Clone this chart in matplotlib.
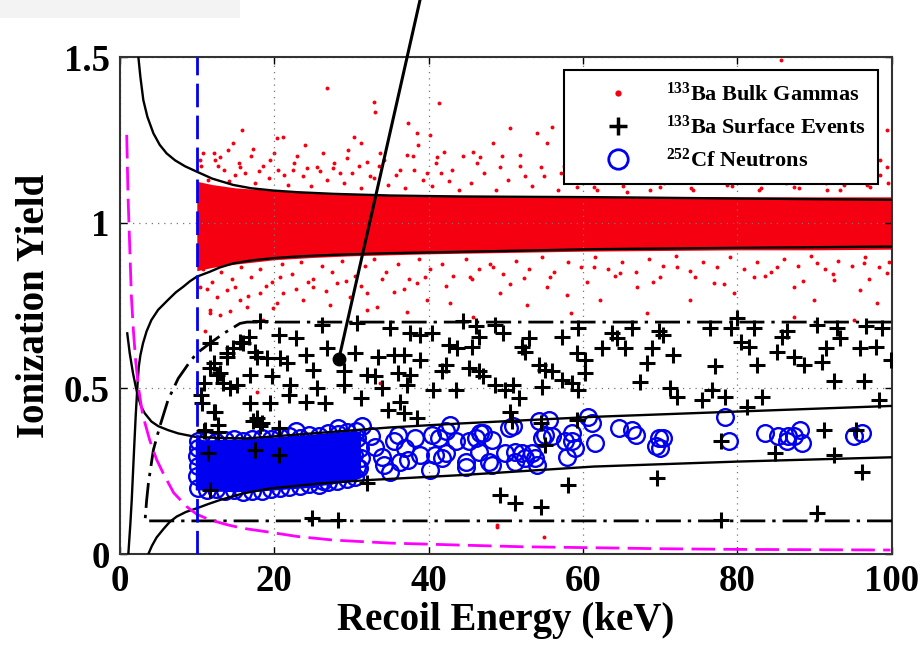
import matplotlib
matplotlib.use("Agg")
import matplotlib.pyplot as plt
from matplotlib.lines import Line2D
from matplotlib.patches import Rectangle

plt.rcParams['font.family'] = ['Liberation Serif', 'DejaVu Serif']
plt.rcParams['font.weight'] = 'bold'
plt.rcParams['mathtext.fontset'] = 'custom'
plt.rcParams['mathtext.rm'] = 'Liberation Serif:bold'
plt.rcParams['mathtext.bf'] = 'Liberation Serif:bold'
plt.rcParams['mathtext.it'] = 'Liberation Serif:bold'

# ---------------- data ----------------
# dense core of the 133Ba bulk-gamma band (edges)
gcore_x = [10, 12, 15, 20, 25, 30, 40, 50, 60, 70, 80, 90, 100]
gcore_hi = [1.125, 1.115, 1.105, 1.097, 1.09, 1.087, 1.083, 1.082, 1.08, 1.079, 1.078, 1.078, 1.078]
gcore_lo = [0.855, 0.865, 0.875, 0.888, 0.895, 0.9, 0.906, 0.91, 0.914, 0.916, 0.918, 0.918, 0.92]

# scattered bulk-gamma events outside the dense core
gam_x = [26.8, 32.9, 33.1, 41.3, 15.8, 37.4, 21.2, 20.4, 30.3, 38.5, 40.2, 24.0, 31.2, 14.7, 17.3,
         38.7, 42.0, 33.7, 37.2, 12.2, 13.0, 10.4, 19.5, 29.4, 41.1, 25.5, 27.7, 32.0, 15.6, 22.5,
         10.4, 11.7, 15.6, 16.5, 20.4, 21.2, 23.8, 27.3, 29.9, 32.0, 33.3, 35.5, 37.2, 39.8, 42.8,
         13.0, 18.6, 25.1, 28.1, 38.5, 13.9, 18.2,
         50.6, 48.4, 56.0, 54.0, 55.3, 46.7, 45.8, 51.9, 49.3, 54.5, 57.1, 85.6, 99.4, 98.5, 99.4,
         61.4, 70.0, 78.7, 87.3, 93.8, 74.3, 83.0, 65.7, 91.6, 97.2, 59.2,
         45.4, 48.4, 52.3, 55.3, 57.9, 52.7, 49.3, 64.8, 67.0, 70.0, 73.9, 76.9, 79.5, 82.1, 85.1,
         87.3, 89.9, 92.5, 95.9, 98.1, 99.4, 96.4, 61.4, 62.2, 72.2, 90.3, 45.8, 58.4, 68.3, 87.3, 95.1,
         48.9, 54.9, 48.9, 11.7, 14.3, 19.9, 32.0, 11.1, 17.8, 33.7,
         10.5, 11.5, 12.3, 13.5, 14.2, 15.5, 16.3, 17.5, 18.6, 19.4, 20.5, 21.8, 22.6, 23.7, 24.8, 25.9,
         26.9, 27.8, 29.0, 30.1, 31.3, 32.4, 33.6, 34.7, 35.8, 37.0, 38.1, 39.3, 40.5, 41.6, 42.7, 43.9,
         45.5, 47.2, 48.8, 50.3, 51.8, 53.4, 55.0, 56.7, 58.3, 60.0, 61.8, 63.5, 65.2, 67.0, 68.7, 70.5,
         72.3, 74.0, 75.8, 77.5, 79.3, 81.0, 82.8, 84.5, 86.3, 88.0, 89.8, 91.5, 93.3, 95.0, 96.8, 98.5, 99.5,
         10.8, 12.0, 13.2, 14.5, 15.7, 17.0, 18.2, 19.7, 21.0, 22.3, 23.5, 25.0, 26.2, 27.5, 28.8, 30.5,
         31.8, 33.0, 34.5, 36.0, 37.5, 38.8, 40.2, 41.8, 43.2, 44.8, 46.5, 48.0, 49.7, 51.3, 53.0, 54.7,
         56.3, 58.0, 59.7, 61.5, 63.2, 65.0, 66.8, 68.5, 70.3, 72.0, 73.8, 75.5, 77.3, 79.0, 80.8, 82.5,
         84.3, 86.0, 87.8, 89.5, 91.3, 93.0, 94.8, 96.5, 98.3, 99.6,
         10.8, 12.8, 14.0, 15.0, 17.0, 18.0, 20.0, 21.3, 23.0, 24.3, 26.3, 28.5, 29.6, 31.0, 33.0, 34.2,
         36.3, 38.0, 39.8, 41.0, 43.0, 44.5, 46.3, 49.5, 52.5, 57.5, 62.5, 66.0, 69.5, 73.5, 78.0, 82.0,
         85.5, 90.5, 94.0, 97.5,
         11.3, 12.6, 14.9, 16.6, 18.9, 20.8, 22.9, 24.4, 26.7, 29.3, 31.2, 34.0, 36.8, 39.5, 42.3, 45.6,
         50.5, 55.7, 60.5, 64.2, 69.0, 74.5, 78.2, 83.5, 88.5, 92.3, 97.0]
gam_y = [1.405, 1.365, 1.335, 1.360, 1.280, 1.302, 1.259, 1.257, 1.259, 1.270, 1.265, 1.234, 1.239, 1.239, 1.221,
         1.234, 1.214, 1.209, 1.204, 1.209, 1.199, 1.189, 1.189, 1.194, 1.199, 1.169, 1.164, 1.184, 1.169, 1.159,
         0.807, 0.726, 0.767, 0.747, 0.757, 0.787, 0.767, 0.752, 0.777, 0.787, 0.747, 0.792, 0.731, 0.767, 0.757,
         0.721, 0.706, 0.807, 0.817, 0.817, 0.797, 0.787,
         1.285, 1.239, 1.290, 1.270, 1.239, 1.199, 1.214, 1.204, 1.169, 1.169, 1.149, 1.491, 1.280, 1.189, 1.169,
         1.109, 1.109, 1.114, 1.109, 1.114, 1.099, 1.104, 1.094, 1.099, 1.109, 1.109,
         0.837, 0.867, 0.832, 0.807, 0.782, 0.752, 0.787, 0.847, 0.807, 0.837, 0.767, 0.817, 0.787, 0.837, 0.867,
         0.807, 0.767, 0.827, 0.797, 0.757, 0.847, 0.877, 0.867, 0.767, 0.867, 0.877, 0.716, 0.726, 0.726, 0.716, 0.706,
         0.088, 0.052, 0.082, 0.737, 0.732, 0.742, 0.737, 0.672, 0.490, 0.515,
         1.17, 1.13, 1.19, 1.16, 1.125, 1.18, 1.15, 1.12, 1.17, 1.135, 1.16, 1.115, 1.18, 1.14, 1.11, 1.155,
         1.13, 1.18, 1.12, 1.15, 1.105, 1.14, 1.17, 1.115, 1.145, 1.105, 1.16, 1.13, 1.11, 1.15, 1.125, 1.10,
         1.12, 1.15, 1.10, 1.13, 1.17, 1.11, 1.14, 1.10, 1.125, 1.15, 1.10, 1.13, 1.11, 1.14, 1.10, 1.12,
         1.15, 1.105, 1.13, 1.16, 1.11, 1.13, 1.10, 1.14, 1.12, 1.105, 1.15, 1.12, 1.10, 1.135, 1.115, 1.145, 1.12,
         0.86, 0.82, 0.85, 0.83, 0.865, 0.835, 0.86, 0.82, 0.875, 0.845, 0.88, 0.83, 0.87, 0.85, 0.885, 0.84,
         0.87, 0.89, 0.85, 0.875, 0.83, 0.89, 0.86, 0.875, 0.84, 0.89, 0.86, 0.875, 0.845, 0.885, 0.86, 0.895,
         0.85, 0.88, 0.865, 0.895, 0.86, 0.88, 0.85, 0.89, 0.87, 0.90, 0.855, 0.88, 0.865, 0.895, 0.86, 0.88,
         0.85, 0.89, 0.87, 0.90, 0.86, 0.885, 0.87, 0.895, 0.865, 0.88,
         1.21, 1.17, 1.22, 1.145, 1.20, 1.155, 1.21, 1.145, 1.20, 1.165, 1.21, 1.15, 1.22, 1.17, 1.135, 1.19,
         1.16, 1.20, 1.15, 1.18, 1.16, 1.20, 1.18, 1.20, 1.14, 1.17, 1.16, 1.20, 1.165, 1.13, 1.19, 1.15,
         1.175, 1.16, 1.19, 1.165,
         0.80, 0.775, 0.805, 0.78, 0.81, 0.835, 0.80, 0.82, 0.795, 0.825, 0.81, 0.83, 0.80, 0.835, 0.81, 0.83,
         0.815, 0.835, 0.82, 0.84, 0.82, 0.835, 0.815, 0.84, 0.825, 0.845, 0.83]

# 133Ba surface events
surf_x = [18.2, 20.6, 22.9, 26.2, 30.7, 35.0, 37.6, 38.9, 15.6, 16.7, 17.6, 14.7, 13.9, 20.8, 19.1, 17.8,
          21.7, 24.2, 25.1, 26.8, 29.0, 29.0, 30.5, 32.0, 33.1, 33.5, 35.5, 36.8, 38.9, 36.1, 37.6, 37.2,
          34.0, 12.2, 11.7, 12.6, 13.4, 14.3, 15.2, 10.9, 10.6, 12.2, 16.9, 19.7, 22.1, 21.9, 25.5, 24.2,
          26.6, 16.9, 19.5, 31.2, 17.8, 18.4, 20.6, 12.8, 10.9, 34.8, 36.3, 36.8, 38.5, 11.5, 17.6, 20.6,
          11.7, 32.0, 24.9, 28.3,
          11.7, 13.9, 16.0, 13.0, 10.7, 12.4, 11.1, 12.8, 17.3, 18.2,
          40.4, 44.5, 46.1, 46.5, 48.6, 49.7, 42.6, 43.7, 45.6, 42.2, 41.7, 45.2, 46.5, 47.1, 48.6, 49.9,
          51.0, 51.7, 40.6, 43.5, 52.1, 53.0, 52.5, 54.3, 55.1, 56.0, 54.7, 57.3, 59.4, 59.2, 60.3, 60.3,
          57.3, 58.6, 59.4, 62.5, 63.8, 64.4, 65.5, 66.4, 68.3, 68.9, 69.8, 67.4, 50.6, 50.8, 54.5, 55.1,
          59.2, 58.1, 49.3, 51.2, 54.5, 69.6,
          70.4, 71.7, 76.5, 77.1, 79.1, 80.0, 80.4, 81.5, 82.1, 82.5, 85.1, 85.8, 86.4, 87.3, 88.6, 90.3,
          91.0, 91.4, 92.9, 93.3, 95.9, 96.6, 97.9, 98.7, 99.9, 92.5, 96.4, 98.3, 71.3, 72.2, 75.4, 76.7,
          78.4, 81.2, 83.2, 77.8, 84.9, 91.2, 92.5, 95.3, 96.1, 90.3, 77.8]
surf_y = [0.702, 0.661, 0.651, 0.692, 0.697, 0.682, 0.666, 0.661, 0.641, 0.656, 0.611, 0.621, 0.596, 0.591,
          0.591, 0.596, 0.576, 0.601, 0.556, 0.621, 0.551, 0.510, 0.606, 0.541, 0.536, 0.596, 0.601, 0.601,
          0.586, 0.546, 0.541, 0.510, 0.500, 0.576, 0.561, 0.541, 0.515, 0.500, 0.510, 0.515, 0.480, 0.430,
          0.541, 0.536, 0.510, 0.480, 0.500, 0.460, 0.455, 0.455, 0.455, 0.470, 0.410, 0.395, 0.380, 0.390,
          0.370, 0.435, 0.460, 0.425, 0.410, 0.304, 0.314, 0.299, 0.193, 0.214, 0.108, 0.103,
          0.636, 0.606, 0.636, 0.546, 0.455, 0.430, 0.374, 0.369, 0.400, 0.385,
          0.666, 0.702, 0.687, 0.656, 0.692, 0.666, 0.631, 0.621, 0.626, 0.571, 0.551, 0.561, 0.551, 0.536,
          0.510, 0.495, 0.510, 0.470, 0.495, 0.495, 0.626, 0.651, 0.611, 0.571, 0.556, 0.551, 0.505, 0.656,
          0.682, 0.606, 0.586, 0.546, 0.526, 0.515, 0.495, 0.621, 0.666, 0.651, 0.621, 0.682, 0.576, 0.621,
          0.672, 0.520, 0.430, 0.400, 0.395, 0.329, 0.405, 0.209, 0.179, 0.153, 0.143, 0.229,
          0.661, 0.601, 0.682, 0.566, 0.682, 0.712, 0.641, 0.626, 0.682, 0.571, 0.611, 0.656, 0.672, 0.596,
          0.571, 0.692, 0.581, 0.621, 0.682, 0.651, 0.621, 0.687, 0.626, 0.682, 0.586, 0.521, 0.521, 0.465,
          0.501, 0.475, 0.465, 0.495, 0.475, 0.445, 0.475, 0.340, 0.304, 0.375, 0.299, 0.375, 0.249, 0.123,
          0.103]

# dense core of the 252Cf neutron cloud (edges)
ncore_x = [9.8, 12, 15, 18, 21, 24, 27, 30, 31.2]
ncore_hi = [0.345, 0.345, 0.347, 0.35, 0.355, 0.36, 0.366, 0.372, 0.37]
ncore_lo = [0.195, 0.19, 0.188, 0.19, 0.195, 0.2, 0.21, 0.22, 0.23]

# 252Cf neutrons
neu_x = [10.1, 11.3, 12.5, 13.6, 14.8, 16.0, 17.2, 18.4, 19.6, 20.8, 22.0, 23.3, 24.5, 25.8, 27.0, 28.3, 29.5, 30.6,
         10.1, 11.3, 12.5, 13.6, 14.8, 16.0, 17.2, 18.4, 19.6, 20.8, 22.0, 23.3, 24.5, 25.8, 27.0, 28.2, 29.4, 30.5,
         10.0, 10.1, 10.0, 10.2, 31.0, 31.3, 31.1, 30.8,
         22.9, 28.3, 31.4, 32.5, 33.1, 34.0, 34.2, 35.0, 35.5, 36.1, 37.0, 37.4, 38.3, 38.9, 36.3,
         29.4, 30.3, 30.7, 27.3, 29.0, 25.1, 26.4, 23.8,
         40.4, 42.2, 42.8, 41.3, 43.5, 40.9, 42.2, 40.2, 41.7, 44.8, 45.2, 44.8, 46.1, 46.7, 47.1, 48.2,
         47.8, 48.2, 46.5, 50.4, 51.0, 49.9, 51.2, 52.1, 51.2, 52.5, 53.8, 54.0, 53.4, 54.3, 55.6, 55.1,
         56.0, 54.7, 57.7, 58.6, 57.9, 59.0, 58.6, 60.7, 61.2, 61.6, 64.6, 66.4, 66.8, 69.4, 69.8,
         70.4, 70.0, 78.4, 78.9, 83.6, 85.3, 86.4, 87.3, 88.1, 88.4, 86.6, 95.1, 96.1]
neu_y = [0.340, 0.343, 0.338, 0.344, 0.346, 0.341, 0.348, 0.350, 0.346, 0.352, 0.356, 0.351, 0.360, 0.357,
         0.364, 0.361, 0.368, 0.372,
         0.198, 0.192, 0.197, 0.189, 0.194, 0.186, 0.191, 0.189, 0.196, 0.199, 0.203, 0.205, 0.212, 0.208,
         0.216, 0.221, 0.226, 0.232,
         0.235, 0.265, 0.295, 0.320, 0.26, 0.29, 0.32, 0.35,
         0.370, 0.380, 0.385, 0.355, 0.324, 0.294, 0.269, 0.249, 0.340, 0.360, 0.320, 0.284, 0.350, 0.299,
         0.279, 0.329, 0.299, 0.264, 0.244, 0.249, 0.229, 0.219, 0.234,
         0.360, 0.370, 0.390, 0.350, 0.340, 0.299, 0.304, 0.254, 0.289, 0.279, 0.340, 0.264, 0.350, 0.365,
         0.365, 0.345, 0.279, 0.269, 0.309, 0.380, 0.385, 0.304, 0.309, 0.304, 0.279, 0.289, 0.289, 0.269,
         0.304, 0.400, 0.405, 0.360, 0.355, 0.350, 0.340, 0.365, 0.294, 0.320, 0.340, 0.415, 0.395, 0.335,
         0.380, 0.375, 0.360, 0.325, 0.350,
         0.350, 0.320, 0.415, 0.340, 0.365, 0.355, 0.340, 0.355, 0.375, 0.335, 0.355, 0.355, 0.365]

# band curves
gup_x = [2.2, 2.44, 2.7, 3.08, 3.6, 4.38, 5.2, 6.1, 7.2, 8.5, 10, 12, 14.7, 17, 19.9, 23, 27.7, 35, 44.1,
         61.3, 80, 100]
gup_y = [1.62, 1.50, 1.44, 1.37, 1.32, 1.27, 1.235, 1.209, 1.188, 1.17, 1.154, 1.133, 1.114, 1.104, 1.097,
         1.092, 1.087, 1.082, 1.079, 1.077, 1.073, 1.069]
glo_x = [1.0, 1.14, 1.4, 1.58, 1.88, 2.1, 2.25, 2.35, 2.49, 2.7, 3.04, 3.5, 4.12, 5.0, 6.28, 7.3, 8.27, 9.1,
         10, 11.7, 13, 14.7, 17, 19.9, 23, 27.7, 35, 44.1, 61.4, 80, 100]
glo_y = [-0.08, 0.0, 0.09, 0.163, 0.314, 0.42, 0.48, 0.52, 0.565, 0.60, 0.636, 0.672, 0.706, 0.737, 0.767,
         0.79, 0.807, 0.823, 0.837, 0.852, 0.865, 0.877, 0.886, 0.893, 0.898, 0.903, 0.908, 0.912, 0.920,
         0.924, 0.928]
nup_x = [1.0, 1.32, 1.75, 2.1, 2.4, 2.8, 3.26, 4.12, 5.0, 6.28, 7.6, 9.74, 13, 16.5, 20, 27.7, 35, 44.1,
         61.4, 80, 100]
nup_y = [0.666, 0.606, 0.545, 0.505, 0.475, 0.445, 0.425, 0.400, 0.386, 0.374, 0.364, 0.354, 0.350, 0.349,
         0.355, 0.369, 0.382, 0.394, 0.414, 0.430, 0.447]
nlo_x = [3.4, 3.73, 4.2, 4.8, 5.67, 6.5, 7.4, 8.6, 10, 11.5, 13, 16, 19.5, 21.7, 26, 32, 44.1, 61.4, 80, 100]
nlo_y = [-0.05, 0.0, 0.025, 0.05, 0.075, 0.097, 0.113, 0.127, 0.138, 0.151, 0.163, 0.183, 0.198, 0.203,
         0.213, 0.223, 0.238, 0.264, 0.279, 0.292]
cut_x = [100, 3.3, 3.5, 3.74, 4.38, 5.2, 6.28, 7.6, 9.1, 10, 11.7, 13.5, 15.6, 16.5, 100]
cut_y = [0.10, 0.10, 0.16, 0.214, 0.314, 0.384, 0.465, 0.53, 0.58, 0.606, 0.636, 0.666, 0.696, 0.70, 0.70]
thr_x = [0.93, 1.1, 1.36, 1.53, 1.79, 2.1, 2.5, 3.0, 3.9, 4.8, 5.67, 7.0, 8.7, 10, 11.7, 14, 16, 19.1, 23,
         27.7, 35, 44.1, 52, 61.4, 70, 80, 90, 99.8]
thr_y = [1.265, 1.08, 0.90, 0.78, 0.676, 0.58, 0.495, 0.42, 0.344, 0.285, 0.243, 0.185, 0.143, 0.12, 0.103,
         0.088, 0.0775, 0.067, 0.053, 0.042, 0.033, 0.027, 0.022, 0.019, 0.016, 0.014, 0.013, 0.012]
ana_thresh = 10.0
pointer_x = [38.9, 28.4]
pointer_y = [1.672, 0.589]

x_ticks = [0, 20, 40, 60, 80, 100]
y_ticks = [0, 0.5, 1, 1.5]
y_ticklabels = ['0', '0.5', '1', '1.5']
labels = [r'$^{133}$Ba Bulk Gammas', r'$^{133}$Ba Surface Events', r'$^{252}$Cf Neutrons']

# ---------------- plot ----------------
fig = plt.figure(figsize=(9.23, 6.47), dpi=100)
fig.patches.append(Rectangle((0, 1 - 18 / 647), 240 / 923, 18 / 647, transform=fig.transFigure,
                             facecolor='#f3f3f3', edgecolor='none'))
ax = fig.add_axes([0.1295, 0.1437, 0.8369, 0.7682])

RED = '#f50010'
BLUE = '#0000f0'

ax.fill_between(gcore_x, gcore_lo, gcore_hi, color=RED, lw=0, zorder=1)
ax.plot(gam_x, gam_y, ls='none', marker='o', ms=2.8, mew=0, color=RED, zorder=1)

ax.fill_between(ncore_x, ncore_lo, ncore_hi, color=BLUE, lw=0, zorder=2)
ax.plot(neu_x, neu_y, ls='none', marker='o', ms=12, mfc='none', mec=BLUE, mew=1.7, zorder=2)
ax.plot(surf_x, surf_y, ls='none', marker='+', ms=12, mew=2.2, color='black', zorder=3)

lw_band = 1.7
ax.plot(gup_x, gup_y, color='black', lw=lw_band, zorder=4)
ax.plot(glo_x, glo_y, color='black', lw=lw_band, zorder=4)
ax.plot(nup_x, nup_y, color='black', lw=lw_band, zorder=4)
ax.plot(nlo_x, nlo_y, color='black', lw=lw_band, zorder=4)
ax.plot(cut_x, cut_y, color='black', lw=2.0, ls=(0, (9, 2.5, 1.2, 2.5)), zorder=4)
ax.plot(thr_x, thr_y, color='#ff00ff', lw=2.0, ls=(0, (8.5, 3)), zorder=4)
ax.axvline(ana_thresh, color=BLUE, lw=2.0, ls=(0, (8.5, 3)), zorder=4)

ax.plot(pointer_x, pointer_y, color='black', lw=2.2, clip_on=False, zorder=6)
ax.plot(pointer_x[1:], pointer_y[1:], ls='none', marker='o', ms=9, color='black', zorder=6)

ax.set_xlim(0, 100)
ax.set_ylim(0, 1.5)
ax.set_xticks(x_ticks)
ax.set_yticks(y_ticks)
ax.set_yticklabels(y_ticklabels)
ax.tick_params(direction='in', length=5, width=1, top=True, right=True, labelsize=26.5, pad=7, colors='black')
for lab in ax.get_xticklabels() + ax.get_yticklabels():
    lab.set_fontweight('bold')
ax.grid(True, color='#777777', ls=(0, (1, 4)), lw=0.9)
for sp in ax.spines.values():
    sp.set_linewidth(1.5)
    sp.set_color('#333333')

ax.set_xlabel('Recoil Energy (keV)', fontsize=28, fontweight='bold', labelpad=2)
ax.set_ylabel('Ionization Yield', fontsize=28, fontweight='bold', labelpad=8)

handles = [Line2D([], [], ls='none', marker='o', ms=4.5, mew=0, color=RED),
           Line2D([], [], ls='none', marker='+', ms=13, mew=2.5, color='black'),
           Line2D([], [], ls='none', marker='o', ms=14, mfc='none', mec=BLUE, mew=2.0)]
leg = ax.legend(handles, labels, loc='upper right', bbox_to_anchor=(0.982, 0.974), borderaxespad=0,
                fancybox=False, framealpha=1, edgecolor='black', prop={'size': 16, 'weight': 'bold'},
                handlelength=3.8, handletextpad=0.25, labelspacing=0.45, borderpad=0.55)
leg.get_frame().set_linewidth(1.5)
leg.set_zorder(7)

fig.savefig('out.png', dpi=100)
